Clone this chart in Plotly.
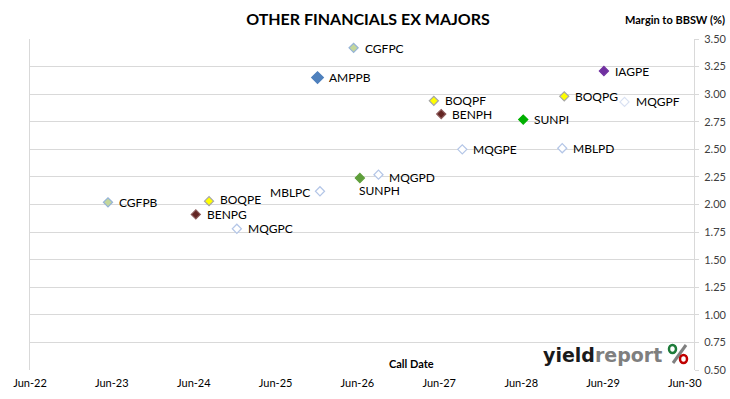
import plotly.graph_objects as go

# ---- data ----
codes = ["CGFPC", "AMPPB", "IAGPE", "BOQPF", "BENPH", "BOQPG", "MQGPF", "SUNPI",
         "MQGPE", "MBLPD", "MQGPD", "SUNPH", "MBLPC", "CGFPB", "BOQPE", "BENPG", "MQGPC"]
call_dates = ["2026-05-15", "2025-12-05", "2029-06-05", "2027-05-08", "2027-06-10",
              "2028-12-10", "2029-09-05", "2028-06-10", "2027-09-12", "2028-12-01",
              "2026-09-03", "2026-06-12", "2025-12-16", "2023-05-15", "2024-08-08",
              "2024-06-10", "2024-12-10"]
margins = [3.42, 3.15, 3.21, 2.94, 2.82, 2.98, 2.93, 2.77,
           2.50, 2.51, 2.27, 2.24, 2.12, 2.02, 2.03, 1.91, 1.78]

x_tick_dates = ["2022-06-01", "2023-06-01", "2024-06-01", "2025-06-01", "2026-06-01",
                "2027-06-01", "2028-06-01", "2029-06-01", "2030-06-01"]
x_tick_labels = ["Jun-22", "Jun-23", "Jun-24", "Jun-25", "Jun-26",
                 "Jun-27", "Jun-28", "Jun-29", "Jun-30"]
y_ticks = [0.50, 0.75, 1.00, 1.25, 1.50, 1.75, 2.00, 2.25, 2.50, 2.75, 3.00, 3.25, 3.50]

# ---- styles ----
fills = {"CGFPC": "#C4D79B", "AMPPB": "#4F81BD", "IAGPE": "#7030A0", "BOQPF": "#FFFF00",
         "BENPH": "#632523", "BOQPG": "#FFFF00", "MQGPF": "#FFFFFF", "SUNPI": "#00B000",
         "MQGPE": "#FFFFFF", "MBLPD": "#FFFFFF", "MQGPD": "#FFFFFF", "SUNPH": "#5E9E3A",
         "MBLPC": "#FFFFFF", "CGFPB": "#C4D79B", "BOQPE": "#FFFF00", "BENPG": "#632523",
         "MQGPC": "#FFFFFF"}
lines = {"CGFPC": "#95B3D7", "AMPPB": "#4F81BD", "IAGPE": "#7030A0", "BOQPF": "#A6A6A6",
         "BENPH": "#8B5A5A", "BOQPG": "#A6A6A6", "MQGPF": "#D9E1F2", "SUNPI": "#00B000",
         "MQGPE": "#B4C6E7", "MBLPD": "#B4C6E7", "MQGPD": "#B4C6E7", "SUNPH": "#5E9E3A",
         "MBLPC": "#B4C6E7", "CGFPB": "#95B3D7", "BOQPE": "#A6A6A6", "BENPG": "#8B5A5A",
         "MQGPC": "#B4C6E7"}
sizes = {c: 7 for c in codes}
sizes["AMPPB"] = 9
# label placement: (xanchor, xshift, yshift)
place = {c: ("left", 9, 0) for c in codes}
place["MBLPC"] = ("right", -8, -1)
place["SUNPH"] = ("left", -3, -12)
place["MQGPD"] = ("left", 9, -3)
place["BOQPE"] = ("left", 9, 2)
place["CGFPC"] = ("left", 9, -1)

fig = go.Figure()
for c, d, m in zip(codes, call_dates, margins):
    fig.add_trace(go.Scatter(
        x=[d], y=[m], mode="markers", name=c, showlegend=False,
        marker=dict(symbol="diamond", size=sizes[c], color=fills[c],
                    line=dict(color=lines[c], width=1.2)),
        hoverinfo="text", hovertext=f"{c}: {m:.2f}"))
    xa, xs, ys = place[c]
    fig.add_annotation(x=d, y=m, text=c, showarrow=False, xanchor=xa, yanchor="middle",
                       xshift=xs, yshift=ys,
                       font=dict(family="Lato", size=12, color="#000000"))

L, R, T, B = 30, 36, 39, 29
W, H = 730, 399
pw, ph = W - L - R, H - T - B


def px(xp):
    return (xp - L) / pw


def py(yp):
    return (H - B - yp) / ph


fig.update_layout(
    width=W, height=H,
    margin=dict(l=L, r=R, t=T, b=B, autoexpand=False),
    paper_bgcolor="white", plot_bgcolor="white",
    title=dict(text="<b>OTHER FINANCIALS EX MAJORS</b>", x=368 / W, xref="container",
               xanchor="center", y=1 - 19 / H, yref="container", yanchor="middle",
               font=dict(family="Lato", size=16, color="#000000")),
    xaxis=dict(type="date", range=["2022-06-01", "2030-07-12"], automargin=False,
               tickvals=x_tick_dates, ticktext=x_tick_labels,
               showgrid=False, zeroline=False, showline=False, ticks="",
               ticklabelstandoff=5,
               tickfont=dict(family="Lato", size=11, color="#000000")),
    yaxis=dict(side="right", range=[0.5, 3.5], tickvals=y_ticks, tickformat=".2f",
               automargin=False, ticklabelstandoff=3,
               showgrid=True, gridcolor="#D9D9D9", gridwidth=1, zeroline=False,
               showline=True, linecolor="#D9D9D9", linewidth=1, mirror=True,
               ticks="outside", ticklen=4, tickcolor="#D9D9D9",
               tickfont=dict(family="Lato", size=11, color="#404040")),
    font=dict(family="Lato"),
)

fig.add_annotation(xref="paper", yref="paper", x=px(727), y=py(19), xanchor="right",
                   yanchor="middle", showarrow=False, text="<b>Margin to BBSW (%)</b>",
                   font=dict(family="Lato", size=11, color="#000000"))
fig.add_annotation(xref="paper", yref="paper", x=px(411), y=py(363), xanchor="center",
                   yanchor="middle", showarrow=False, text="<b>Call Date</b>",
                   font=dict(family="Lato", size=11, color="#000000"))
# logo
fig.add_annotation(xref="paper", yref="paper", x=px(541), y=py(355), xanchor="left",
                   yanchor="middle", showarrow=False,
                   text="<b>yield</b><b><span style='color:#7F7F7F'>report</span></b>",
                   font=dict(family="DejaVu Sans", size=19, color="#1A1A1A"))
fig.add_shape(type="line", xref="paper", yref="paper", x0=px(686), y0=py(345),
              x1=px(673), y1=py(363), line=dict(color="#7F7F7F", width=3))
fig.add_shape(type="circle", xref="paper", yref="paper", x0=px(669), y0=py(345),
              x1=px(676), y1=py(353), line=dict(color="#1E7B3A", width=2.5),
              fillcolor="#FFFFFF")
fig.add_shape(type="circle", xref="paper", yref="paper", x0=px(680), y0=py(355),
              x1=px(687), y1=py(363), line=dict(color="#C00000", width=2.5),
              fillcolor="#FFFFFF")

fig.write_html("out.html", config={"displayModeBar": False},
               post_script="document.body.style.margin='0';"
                           "document.body.style.padding='0';")
